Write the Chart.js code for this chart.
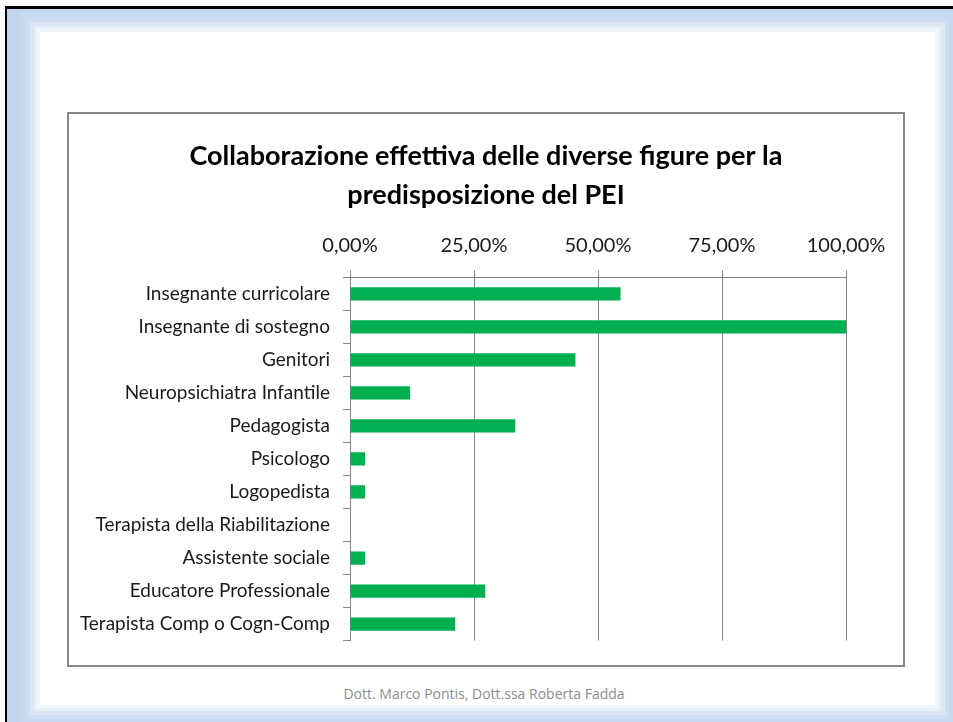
<!DOCTYPE html>
<html><head><meta charset="utf-8">
<script src="https://cdn.jsdelivr.net/npm/chart.js@4.4.1/dist/chart.umd.min.js"></script>
<style>
html,body{margin:0;padding:0;width:953px;height:722px;overflow:hidden;background:#fff;font-family:Lato, sans-serif;}
#frame{position:absolute;left:5px;top:6px;width:960px;height:730px;border-top:3px solid #000;border-left:2px solid #000;background:#C2D5EE;box-sizing:border-box;}
#slide{position:absolute;left:40px;top:32px;width:895px;height:673px;background:#fff;box-shadow:0 0 0 3px #F3F7FC,0 0 0 6px #E7EFF9,0 0 0 10px #DBE6F5,0 0 0 14px #CEDEF2,0 0 0 20px #C7D9F0;}
#box{position:absolute;left:67px;top:112px;width:838px;height:555px;border:2px solid #878787;box-sizing:border-box;background:#fff}
#footer{position:absolute;left:0;width:968px;top:684px;text-align:center;font-size:14px;color:#8c8c8c;font-family:"Open Sans",sans-serif}
canvas{display:block}
</style></head>
<body>
<div id="frame"></div>
<div id="slide"></div>
<div id="box"><canvas id="c" width="834" height="551"></canvas></div>
<div id="footer">Dott. Marco Pontis, Dott.ssa Roberta Fadda</div>
<script>
const categories = [
  'Insegnante curricolare',
  'Insegnante di sostegno',
  'Genitori',
  'Neuropsichiatra Infantile',
  'Pedagogista',
  'Psicologo',
  'Logopedista',
  'Terapista della Riabilitazione',
  'Assistente sociale',
  'Educatore Professionale',
  'Terapista Comp o Cogn-Comp'
];
const collaborazione = [54.55, 100, 45.45, 12.12, 33.33, 3.03, 3.03, 0, 3.03, 27.27, 21.21];
const tickValues = [0, 25, 50, 75, 100];
const tickLabels = ['0,00%', '25,00%', '50,00%', '75,00%', '100,00%'];
const titleLines = ['Collaborazione effettiva delle diverse figure per la', 'predisposizione del PEI'];

const gridColor = '#868686';
new Chart(document.getElementById('c'), {
  type: 'bar',
  data: {
    labels: categories,
    datasets: [{
      data: collaborazione,
      backgroundColor: '#00B050',
      borderWidth: 0,
      barPercentage: 0.4,
      categoryPercentage: 1,
      xAxisID: 'x',
      yAxisID: 'y'
    }]
  },
  options: {
    indexAxis: 'y',
    responsive: false,
    animation: false,
    devicePixelRatio: 1,
    layout: { padding: { left: 0, right: 0, top: 0, bottom: 23 } },
    plugins: {
      legend: { display: false },
      tooltip: { enabled: false },
      title: {
        display: true,
        text: titleLines,
        color: '#000',
        font: { family: 'Lato', size: 27, weight: 'bold', lineHeight: 1.45 },
        padding: { top: 23, bottom: 10 }
      }
    },
    scales: {
      x: {
        position: 'top',
        min: 0, max: 100,
        afterBuildTicks: (s) => { s.ticks = tickValues.map(v => ({ value: v })); },
        afterFit: (s) => { s.height = 52; },
        ticks: {
          color: '#1a1a1a',
          font: { family: 'Lato', size: 20 },
          padding: 13,
          maxRotation: 0,
          callback: (v) => tickLabels[tickValues.indexOf(v)]
        },
        grid: { color: gridColor, lineWidth: 1, tickLength: 7, drawTicks: true },
        border: { display: true, color: gridColor, width: 1 }
      },
      y: {
        position: 'left',
        afterFit: (s) => { s.width = 281; },
        ticks: {
          color: '#1a1a1a',
          font: { family: 'Lato', size: 19 },
          padding: 13,
          autoSkip: false
        },
        grid: { drawOnChartArea: false, color: gridColor, tickLength: 7, drawTicks: true },
        border: { display: true, color: gridColor, width: 1 }
      },
      yRight: {
        type: 'category',
        position: 'right',
        display: true,
        afterFit: (s) => { s.width = 57; },
        ticks: { display: false },
        grid: { display: false, drawTicks: false },
        border: { display: false }
      }
    }
  }
});
</script>
</body></html>
